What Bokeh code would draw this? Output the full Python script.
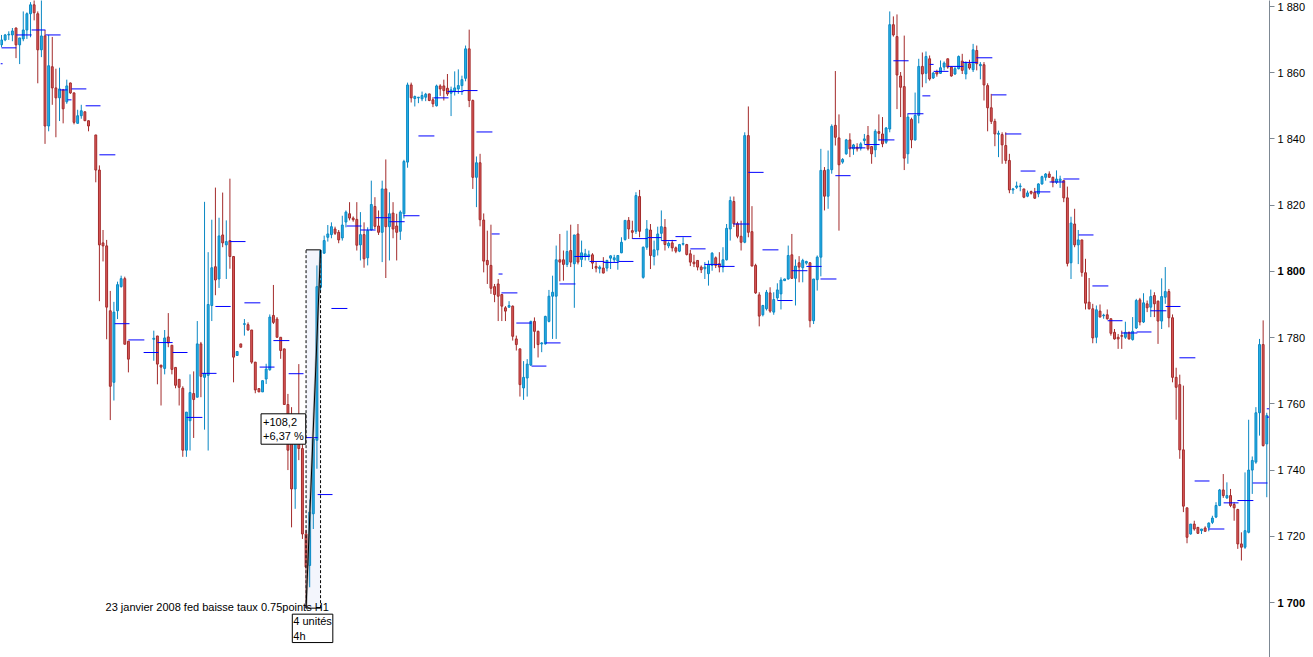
import numpy as np
from bokeh.plotting import figure
from bokeh.models import Range1d, FixedTicker, Label, LinearAxis
from bokeh.embed import file_html
from bokeh.resources import INLINE

# ---------------- DATA (hourly candles, one slot per hour; None = no trading) ----------------
opens = [
    1868.4, 1869.9, 1871.4, 1871.4, 1873.5, 1868.4, 1870.2, 1872.9, 1877.8, 1880.5,
    1877.8, 1866.9, 1871.1, 1843.9, 1861.8, 1855.4, 1852.4, 1854.8, 1851.2, 1856.9,
    1853.9, 1844.7, 1847.0, 1848.2, 1845.5, None, 1841.2, 1830.6, 1808.6, 1807.7,
    1788.1, 1766.5, 1788.1, 1795.4, 1797.8, 1778.9, None, None, None, None,
    None, None, 1779.5, 1780.5, 1771.7, 1770.7, 1780.2, 1777.7, 1771.0, 1767.4,
    1764.7, 1746.0, 1754.9, 1763.1, 1762.0, 1778.1, 1768.0, 1768.6, 1789.7, 1801.4,
    1797.7, 1811.0, 1808.0, 1809.3, 1804.5, 1774.6, 1778.1, 1784.0, 1783.9, 1782.3,
    1772.6, 1764.6, 1763.6, 1767.5, 1770.3, 1786.7, 1785.6, 1780.1, 1776.6, 1759.8,
    1756.5, 1734.3, 1748.5, 1746.5, 1720.7, 1711.2, 1726.8, 1749.0, 1795.2, 1805.5,
    1810.3, 1811.1, 1812.8, 1811.8, 1810.1, 1814.9, 1817.4, 1816.1, 1815.7, 1808.0,
    1811.1, 1804.1, 1812.5, 1819.6, 1813.7, 1811.8, 1824.9, 1813.5, 1817.6, 1813.7,
    1812.1, 1817.4, 1833.0, 1856.3, 1852.2, 1852.4, 1852.1, 1852.6, 1853.6, 1851.8,
    1850.0, 1856.0, 1856.0, 1855.3, 1853.8, 1854.4, 1855.1, 1856.1, 1858.3, 1867.2,
    1851.6, 1828.4, 1832.8, 1815.5, 1803.3, 1801.8, 1795.4, 1796.2, 1793.0, 1789.0,
    1789.2, 1789.5, 1779.6, 1776.6, 1764.8, 1767.8, 1771.7, 1784.9, 1781.9, 1778.1,
    1778.1, 1784.9, 1792.5, 1792.5, 1803.5, 1803.5, 1802.1, 1806.3, 1802.3, 1811.3,
    1803.6, 1804.5, 1804.5, 1805.0, 1801.5, 1800.8, 1801.0, 1801.0, 1804.0, 1803.5,
    1803.1, 1805.6, 1809.6, 1815.4, 1812.3, 1812.1, 1822.6, 1798.2, 1807.3, 1812.5,
    1804.5, 1806.5, 1811.5, 1813.3, 1807.7, 1808.6, 1807.1, 1806.1, 1808.2, 1808.1,
    1805.3, 1802.8, 1803.3, 1801.3, 1800.8, 1799.3, 1801.8, 1804.1, 1802.3, 1801.3,
    1803.5, 1812.8, 1821.1, 1814.4, 1810.6, 1808.8, 1841.0, 1812.0, 1801.8, 1792.9,
    1786.9, 1788.7, 1793.5, 1787.7, 1792.0, 1793.2, 1797.2, 1797.7, 1805.0, 1797.9,
    1802.6, 1801.1, 1802.5, 1802.6, 1785.1, 1797.5, 1804.3, 1830.5, 1822.7, 1830.7,
    1844.1, 1840.3, 1833.0, 1835.5, 1839.7, 1837.0, 1837.5, 1837.2, 1839.5, 1841.0,
    1837.7, 1836.7, 1842.2, 1841.5, 1839.0, 1843.0, 1874.5, 1870.9, 1859.0, 1855.8,
    1835.5, 1845.9, 1839.7, 1847.1, 1861.9, 1859.8, 1864.2, 1858.4, 1860.3, 1859.8,
    1861.7, 1864.2, 1861.7, 1859.6, 1861.2, 1863.5, 1859.6, 1862.7, 1860.9, 1866.7,
    1862.1, 1862.4, 1856.1, 1849.4, 1845.3, 1841.4, 1841.3, 1838.0, 1833.5, 1824.6,
    1825.4, 1825.6, 1824.9, 1822.7, 1824.1, 1823.9, 1823.4, 1826.4, 1828.4, 1829.4,
    1828.4, 1826.9, 1827.4, 1827.4, 1822.2, 1802.6, 1814.3, 1808.0, 1809.5, 1799.6,
    1790.7, 1788.7, 1780.1, 1788.0, 1786.6, 1786.9, 1785.7, 1781.6, 1780.1, 1780.6,
    1780.1, 1781.6, 1779.4, 1782.9, 1791.4, 1784.7, 1790.2, 1789.2, 1792.7, 1791.0,
    1785.0, 1792.2, 1793.9, 1786.0, 1768.0, 1765.8, 1746.1, 1728.6, 1720.7, 1723.7,
    1722.7, 1721.7, 1722.5, 1722.7, 1724.2, 1725.8, 1729.3, 1734.0, 1731.6, 1732.3,
    1729.6, 1728.1, 1717.7, 1716.7, 1721.2, 1740.0, 1742.4, 1757.3, 1777.9, 1747.9,
]
highs = [
    1871.4, 1871.7, 1872.5, 1873.5, 1873.6, 1870.5, 1878.5, 1878.2, 1881.3, 1882.5,
    1878.5, 1882.5, 1872.9, 1871.4, 1870.8, 1861.2, 1861.5, 1855.1, 1857.9, 1857.0,
    1854.0, 1848.8, 1850.3, 1848.2, 1845.5, None, 1841.2, 1832.0, 1812.5, 1809.5,
    1794.1, 1790.8, 1796.9, 1798.7, 1798.4, 1778.9, None, None, None, None,
    None, None, 1782.1, 1780.5, 1771.7, 1782.3, 1787.4, 1777.7, 1771.0, 1767.4,
    1765.3, 1757.5, 1768.9, 1769.8, 1785.0, 1778.7, 1821.0, 1805.8, 1815.6, 1825.3,
    1816.2, 1823.8, 1815.4, 1828.0, 1804.5, 1775.8, 1778.1, 1785.6, 1784.6, 1782.3,
    1772.6, 1764.6, 1767.0, 1772.1, 1787.0, 1795.9, 1786.2, 1780.1, 1776.6, 1763.0,
    1759.0, 1749.5, 1772.0, 1748.9, 1722.0, 1731.1, 1749.9, 1801.8, 1806.5, 1810.8,
    1814.0, 1814.8, 1813.5, 1812.5, 1816.8, 1818.4, 1820.9, 1816.6, 1820.9, 1817.9,
    1814.8, 1813.3, 1827.4, 1822.4, 1818.4, 1827.4, 1833.8, 1823.9, 1820.9, 1817.4,
    1818.4, 1833.7, 1857.0, 1857.0, 1853.1, 1852.6, 1854.3, 1853.9, 1853.6, 1852.6,
    1856.4, 1856.5, 1857.9, 1859.6, 1855.8, 1860.4, 1861.0, 1859.1, 1868.2, 1873.0,
    1851.9, 1834.7, 1835.5, 1817.5, 1812.3, 1814.1, 1796.2, 1797.7, 1793.2, 1789.5,
    1791.0, 1789.7, 1780.6, 1776.6, 1772.9, 1773.5, 1785.1, 1786.1, 1782.1, 1778.6,
    1786.6, 1794.4, 1798.7, 1807.8, 1811.3, 1806.3, 1812.3, 1814.1, 1811.0, 1814.3,
    1809.3, 1806.8, 1806.3, 1805.5, 1802.8, 1801.8, 1804.3, 1803.5, 1804.8, 1805.0,
    1804.8, 1810.3, 1815.4, 1816.4, 1815.3, 1823.9, 1824.6, 1807.5, 1815.5, 1814.3,
    1809.3, 1813.5, 1818.4, 1815.8, 1809.0, 1809.5, 1807.5, 1808.3, 1810.3, 1808.3,
    1806.5, 1805.0, 1803.3, 1801.8, 1802.8, 1803.3, 1805.8, 1804.5, 1805.8, 1807.3,
    1814.3, 1822.6, 1822.6, 1815.0, 1815.3, 1842.0, 1849.8, 1819.7, 1802.3, 1793.7,
    1789.9, 1794.4, 1795.2, 1793.7, 1796.4, 1798.2, 1797.8, 1807.8, 1811.3, 1803.6,
    1804.6, 1803.8, 1803.2, 1802.8, 1797.7, 1804.8, 1837.0, 1831.5, 1836.5, 1844.4,
    1860.5, 1847.4, 1834.2, 1840.0, 1841.7, 1838.5, 1838.7, 1839.0, 1841.5, 1843.9,
    1837.7, 1842.9, 1847.4, 1846.6, 1843.6, 1878.5, 1877.0, 1877.6, 1860.2, 1871.2,
    1847.6, 1846.4, 1854.0, 1864.2, 1866.1, 1866.4, 1865.2, 1860.2, 1860.9, 1863.7,
    1863.4, 1864.2, 1861.9, 1861.9, 1865.2, 1865.7, 1863.4, 1863.9, 1868.7, 1868.2,
    1863.2, 1863.2, 1856.8, 1853.6, 1846.1, 1842.5, 1842.0, 1842.0, 1835.5, 1825.2,
    1827.1, 1826.6, 1824.9, 1824.4, 1824.4, 1825.2, 1826.6, 1828.9, 1829.7, 1830.2,
    1828.6, 1830.5, 1828.9, 1827.6, 1825.6, 1816.5, 1818.9, 1812.5, 1809.5, 1803.8,
    1798.0, 1790.2, 1789.7, 1790.0, 1787.2, 1788.5, 1785.7, 1782.6, 1781.1, 1782.1,
    1784.8, 1781.8, 1786.2, 1791.7, 1792.0, 1793.4, 1791.2, 1794.5, 1793.7, 1791.2,
    1797.9, 1801.3, 1794.7, 1787.0, 1770.9, 1768.8, 1765.5, 1728.6, 1723.7, 1724.7,
    1722.7, 1722.2, 1723.0, 1724.2, 1726.2, 1730.3, 1734.3, 1738.8, 1736.3, 1734.3,
    1730.3, 1728.3, 1721.2, 1739.3, 1755.2, 1744.1, 1759.0, 1779.6, 1785.2, 1757.3,
]
lows = [
    1867.7, 1869.5, 1869.9, 1869.5, 1864.4, 1862.6, 1869.5, 1870.2, 1870.7, 1875.8,
    1856.8, 1864.7, 1838.5, 1842.3, 1850.3, 1840.5, 1845.4, 1844.7, 1850.6, 1853.6,
    1844.4, 1844.7, 1846.1, 1845.5, 1842.3, None, 1826.9, 1791.0, 1803.0, 1779.5,
    1755.1, 1761.0, 1785.6, 1795.1, 1778.0, 1769.5, None, None, None, None,
    None, None, 1773.0, 1765.9, 1759.5, 1768.9, 1777.1, 1768.9, 1764.7, 1759.5,
    1744.0, 1744.0, 1745.9, 1749.7, 1762.0, 1762.0, 1752.2, 1745.9, 1785.0, 1792.8,
    1795.0, 1807.3, 1797.7, 1800.8, 1766.5, 1774.6, 1777.1, 1780.6, 1782.1, 1772.1,
    1763.2, 1763.6, 1763.6, 1766.0, 1770.0, 1784.1, 1780.1, 1773.6, 1759.8, 1740.0,
    1722.7, 1728.3, 1743.0, 1719.2, 1698.3, 1704.6, 1722.2, 1740.4, 1794.0, 1805.3,
    1809.0, 1810.0, 1811.0, 1808.5, 1809.3, 1813.3, 1815.4, 1815.0, 1806.3, 1803.3,
    1801.1, 1801.8, 1812.3, 1812.8, 1811.0, 1802.8, 1798.0, 1803.3, 1810.0, 1803.3,
    1809.5, 1816.0, 1831.3, 1851.0, 1849.8, 1850.8, 1851.4, 1851.4, 1851.4, 1849.6,
    1849.8, 1853.0, 1851.6, 1853.0, 1846.9, 1853.1, 1853.6, 1853.3, 1857.4, 1849.6,
    1824.9, 1819.4, 1813.6, 1799.7, 1796.2, 1793.2, 1790.7, 1785.0, 1785.0, 1785.0,
    1789.0, 1779.1, 1776.1, 1762.2, 1761.2, 1762.2, 1771.5, 1776.8, 1774.0, 1775.6,
    1777.9, 1784.6, 1779.6, 1779.6, 1797.0, 1797.2, 1801.3, 1801.3, 1789.0, 1802.1,
    1801.3, 1803.3, 1803.3, 1800.7, 1799.7, 1799.4, 1799.4, 1800.0, 1800.7, 1802.8,
    1800.5, 1805.5, 1809.3, 1809.8, 1809.8, 1811.3, 1810.3, 1797.8, 1806.5, 1800.7,
    1801.8, 1804.8, 1809.3, 1806.3, 1807.0, 1806.0, 1805.5, 1805.8, 1807.8, 1804.8,
    1801.6, 1801.3, 1800.3, 1799.5, 1797.7, 1795.7, 1800.2, 1801.0, 1799.7, 1799.7,
    1803.3, 1809.3, 1813.4, 1810.0, 1806.3, 1808.5, 1810.3, 1801.6, 1793.2, 1783.4,
    1786.4, 1788.2, 1787.5, 1786.9, 1791.4, 1788.5, 1797.2, 1797.5, 1797.7, 1789.7,
    1796.7, 1796.7, 1802.0, 1783.1, 1784.1, 1794.2, 1798.5, 1818.4, 1818.9, 1829.5,
    1838.0, 1812.3, 1832.5, 1835.2, 1834.5, 1835.2, 1836.2, 1836.5, 1838.5, 1836.5,
    1832.5, 1834.5, 1839.5, 1837.5, 1838.5, 1842.0, 1870.9, 1849.0, 1846.6, 1830.6,
    1832.5, 1837.2, 1839.5, 1844.7, 1855.6, 1856.8, 1857.6, 1858.1, 1858.8, 1859.6,
    1860.7, 1861.2, 1858.8, 1859.3, 1861.0, 1859.6, 1858.0, 1860.9, 1860.2, 1860.7,
    1858.0, 1851.6, 1842.3, 1844.5, 1837.8, 1834.5, 1832.5, 1832.5, 1823.6, 1823.4,
    1824.9, 1824.2, 1822.1, 1822.4, 1823.2, 1821.9, 1822.4, 1826.2, 1827.4, 1828.4,
    1825.4, 1826.4, 1825.2, 1820.9, 1801.5, 1797.7, 1807.3, 1802.2, 1798.4, 1788.5,
    1788.5, 1778.3, 1778.3, 1786.2, 1785.7, 1785.4, 1780.6, 1779.4, 1776.6, 1776.6,
    1779.6, 1779.4, 1779.1, 1782.6, 1783.7, 1784.4, 1787.7, 1786.2, 1786.2, 1778.1,
    1782.6, 1790.2, 1783.1, 1766.5, 1755.2, 1743.4, 1727.3, 1717.9, 1720.5, 1721.7,
    1720.7, 1720.7, 1721.5, 1721.5, 1723.7, 1725.5, 1729.1, 1731.6, 1731.3, 1728.8,
    1724.7, 1716.2, 1712.7, 1716.2, 1720.9, 1732.8, 1741.9, 1750.4, 1747.1, 1731.8,
]
closes = [
    1869.9, 1871.4, 1871.6, 1872.6, 1868.4, 1870.5, 1872.9, 1877.8, 1880.5, 1878.1,
    1866.9, 1871.1, 1843.9, 1862.1, 1855.4, 1852.4, 1855.1, 1849.1, 1856.0, 1853.9,
    1845.0, 1847.0, 1848.5, 1845.5, 1843.9, None, 1830.6, 1808.0, 1807.7, 1789.2,
    1765.3, 1787.7, 1796.0, 1797.8, 1778.0, 1773.5, None, None, None, None,
    None, None, 1779.8, 1772.0, 1771.1, 1779.9, 1778.4, 1770.4, 1765.6, 1765.0,
    1746.0, 1757.5, 1763.4, 1761.3, 1778.1, 1768.3, 1769.2, 1790.0, 1801.1, 1797.4,
    1810.7, 1808.6, 1809.0, 1804.5, 1774.1, 1775.8, 1777.1, 1784.2, 1782.3, 1772.6,
    1764.2, 1763.6, 1767.0, 1770.5, 1786.2, 1784.6, 1780.1, 1776.1, 1759.8, 1746.0,
    1734.3, 1748.0, 1746.5, 1720.7, 1710.7, 1727.3, 1749.4, 1795.4, 1806.3, 1809.3,
    1811.3, 1813.5, 1811.5, 1809.5, 1814.0, 1817.9, 1816.1, 1815.6, 1807.9, 1811.1,
    1803.8, 1812.3, 1820.2, 1813.6, 1811.8, 1824.9, 1813.5, 1817.4, 1812.8, 1811.8,
    1817.9, 1833.2, 1856.3, 1852.4, 1852.8, 1852.6, 1853.1, 1853.5, 1851.6, 1850.6,
    1856.0, 1855.1, 1854.6, 1853.6, 1854.8, 1855.4, 1856.1, 1857.9, 1867.2, 1851.6,
    1828.4, 1832.8, 1815.6, 1803.1, 1802.0, 1794.9, 1793.0, 1792.5, 1789.5, 1788.0,
    1789.7, 1780.4, 1777.9, 1765.8, 1768.0, 1772.0, 1784.9, 1781.9, 1777.9, 1778.4,
    1786.4, 1792.5, 1793.7, 1803.5, 1802.8, 1802.1, 1806.0, 1802.8, 1811.0, 1802.8,
    1805.6, 1805.3, 1805.0, 1802.5, 1801.0, 1801.3, 1799.5, 1803.3, 1804.7, 1804.1,
    1804.8, 1808.8, 1815.4, 1812.8, 1811.8, 1822.9, 1812.1, 1807.3, 1812.8, 1804.8,
    1806.5, 1811.3, 1813.5, 1808.1, 1808.5, 1807.1, 1806.1, 1808.1, 1808.4, 1805.1,
    1802.8, 1802.3, 1801.3, 1800.5, 1801.3, 1802.1, 1805.5, 1801.8, 1801.3, 1803.5,
    1813.0, 1821.4, 1814.4, 1810.6, 1808.8, 1841.0, 1811.8, 1801.6, 1793.5, 1786.5,
    1789.7, 1793.7, 1788.0, 1791.5, 1794.4, 1797.4, 1797.7, 1804.8, 1797.9, 1801.6,
    1801.3, 1803.3, 1803.0, 1785.1, 1797.7, 1804.3, 1830.5, 1822.7, 1830.7, 1843.8,
    1840.5, 1832.2, 1833.8, 1839.7, 1837.0, 1838.2, 1837.0, 1838.5, 1840.0, 1837.0,
    1835.5, 1842.3, 1841.7, 1838.5, 1843.3, 1874.5, 1871.4, 1859.3, 1855.6, 1834.2,
    1846.6, 1839.7, 1847.1, 1861.9, 1859.6, 1864.9, 1858.1, 1859.9, 1859.6, 1861.5,
    1862.9, 1861.7, 1859.0, 1861.2, 1864.9, 1860.7, 1862.9, 1861.4, 1866.9, 1862.7,
    1862.5, 1856.3, 1849.4, 1845.3, 1841.5, 1841.7, 1838.2, 1833.5, 1824.6, 1824.9,
    1825.8, 1825.8, 1822.4, 1823.7, 1823.6, 1822.1, 1826.4, 1828.6, 1829.4, 1828.4,
    1826.9, 1827.9, 1827.9, 1822.2, 1802.4, 1814.6, 1808.0, 1809.5, 1799.7, 1790.4,
    1788.7, 1779.9, 1788.4, 1786.2, 1786.8, 1785.7, 1781.3, 1779.6, 1779.6, 1780.4,
    1781.6, 1779.6, 1781.9, 1791.2, 1784.7, 1790.5, 1789.0, 1792.4, 1790.2, 1785.0,
    1792.4, 1793.9, 1786.0, 1768.0, 1765.0, 1746.1, 1729.1, 1719.7, 1723.7, 1722.2,
    1720.9, 1722.2, 1721.5, 1724.0, 1725.5, 1729.3, 1734.0, 1732.3, 1732.3, 1729.3,
    1728.6, 1717.7, 1716.7, 1721.7, 1740.0, 1742.9, 1757.3, 1777.9, 1747.4, 1756.5,
]

# 4-hour reference levels: (first slot, last slot, level)
h4_levels = [
    (-0.3, 0.3, 1862.7), (0.0, 4.1, 1867.5), (4.1, 8.3, 1871.4), (8.3, 12.1, 1872.9),
    (12.1, 16.3, 1871.4), (16.0, 18.2, 1854.8), (18.2, 19.3, 1851.8), (19.3, 23.4, 1855.1),
    (23.2, 27.3, 1850.0), (27.0, 31.4, 1835.2), (31.2, 35.3, 1784.2), (35.0, 39.4, 1779.3),
    (39.2, 43.3, 1775.5), (43.0, 47.2, 1778.5), (47.2, 51.3, 1775.5), (51.0, 55.4, 1755.9),
    (55.2, 59.3, 1769.2), (59.0, 63.2, 1789.4), (62.9, 67.3, 1809.0), (67.0, 71.4, 1790.5),
    (71.2, 75.3, 1771.1), (75.0, 79.4, 1779.1), (79.2, 83.3, 1769.1), (83.3, 87.2, 1749.8),
    (87.2, 91.3, 1732.6), (91.0, 95.4, 1788.8), (95.2, 99.3, 1813.7), (99.0, 103.2, 1812.5),
    (103.2, 107.3, 1816.2), (107.0, 111.2, 1815.0), (110.9, 115.3, 1816.8), (115.0, 119.4, 1840.9),
    (119.2, 123.3, 1852.4), (123.0, 127.4, 1854.3), (127.2, 131.3, 1854.6), (131.0, 135.4, 1842.1),
    (135.2, 137.4, 1811.3), (137.1, 138.2, 1799.2), (137.9, 142.3, 1793.5), (142.0, 146.2, 1784.4),
    (146.2, 150.3, 1771.4), (150.0, 154.2, 1778.4), (153.9, 158.3, 1796.2), (158.0, 162.2, 1804.5),
    (162.2, 166.3, 1803.0), (166.0, 170.2, 1802.7), (170.2, 174.3, 1803.0), (174.0, 178.2, 1809.9),
    (178.2, 182.0, 1810.2), (182.0, 186.2, 1809.3), (185.9, 190.3, 1810.5), (190.0, 194.2, 1806.8),
    (193.9, 198.3, 1802.1), (198.0, 202.2, 1801.5), (201.9, 206.3, 1814.3), (206.0, 210.2, 1829.9),
    (209.9, 214.3, 1806.5), (214.0, 218.2, 1791.2), (217.9, 222.3, 1800.2), (222.0, 226.2, 1801.5),
    (225.9, 230.3, 1797.7), (230.0, 234.2, 1828.9), (233.9, 238.3, 1837.3), (238.0, 242.2, 1838.3),
    (241.9, 246.3, 1839.7), (246.0, 250.2, 1863.6), (249.9, 254.3, 1847.6), (254.0, 256.2, 1853.0),
    (256.0, 257.1, 1862.5), (257.1, 261.2, 1860.4), (260.9, 265.3, 1861.9), (265.1, 269.2, 1863.1),
    (268.9, 273.3, 1864.5), (273.1, 277.2, 1853.3), (276.9, 281.3, 1841.5), (281.1, 285.2, 1830.3),
    (284.9, 289.3, 1824.0), (289.1, 293.2, 1827.0), (292.9, 297.3, 1827.9), (297.1, 301.2, 1811.0),
    (300.9, 305.3, 1795.6), (305.1, 309.2, 1785.1), (308.9, 313.3, 1781.4), (313.1, 317.2, 1781.7),
    (316.9, 321.3, 1788.1), (321.1, 325.2, 1789.4), (324.9, 329.3, 1773.9), (329.1, 333.2, 1736.7),
    (332.9, 337.3, 1722.2), (337.1, 341.2, 1730.1), (340.9, 345.3, 1730.8), (345.1, 349.2, 1736.1),
    (349.0, 350.0, 1758.5), (349.0, 350.0, 1756.0),
]

# measured move (Fed rate cut, 23 Jan 2008)
measure_from = 84
measure_to = 88
measure_bars_label = "4 unités"
measure_time_label = "4h"
event_text = "23 janvier 2008 fed baisse taux 0.75points H1"
event_slot = 28.7

y_ticks = [1700, 1720, 1740, 1760, 1780, 1800, 1820, 1840, 1860, 1880]
bold_ticks = [1700, 1800]

# ---------------- VIEW ----------------
X_START, X_END = -0.28, 349.75
Y_MIN, Y_MAX = 1683.4, 1881.8
FONT = "Liberation Sans"
AXIS_GREY = "#7d8893"

BULL_FILL, BULL_LINE = "#27b0e6", "#0a88c4"
BEAR_FILL, BEAR_LINE = "#dc5a5a", "#a32b2b"

o = np.array(opens, dtype=float)
h = np.array(highs, dtype=float)
l = np.array(lows, dtype=float)
c = np.array(closes, dtype=float)
x = np.arange(len(o), dtype=float)
valid = ~np.isnan(o)
bull = valid & (c >= o)
bear = valid & (c < o)

p = figure(width=1313, height=657,
           x_range=Range1d(X_START, X_END), y_range=Range1d(Y_MIN, Y_MAX),
           output_backend="svg", toolbar_location=None,
           x_axis_location=None, y_axis_location="right",
           min_border_left=0, min_border_right=44, min_border_top=0, min_border_bottom=0)
p.grid.visible = False
p.outline_line_color = None
p.background_fill_color = "white"
p.border_fill_color = "white"

# measure box background
m_low = l[measure_from]
m_high = h[measure_to]
p.quad(left=[measure_from], right=[measure_to], bottom=[m_low], top=[m_high],
       fill_color="#f3f5fc", line_color=None)

# candles
for mask, fill, line in ((bull, BULL_FILL, BULL_LINE), (bear, BEAR_FILL, BEAR_LINE)):
    p.segment(x0=x[mask], y0=l[mask], x1=x[mask], y1=h[mask], line_color=line, line_width=1)
    p.vbar(x=x[mask], width=0.52, top=np.maximum(o, c)[mask], bottom=np.minimum(o, c)[mask],
           fill_color=fill, line_color=line, line_width=1)

# 4h levels
ls = [t[0] for t in h4_levels]
le = [t[1] for t in h4_levels]
lv = [t[2] for t in h4_levels]
p.segment(x0=ls, y0=lv, x1=le, y1=lv, line_color="#0000ff", line_width=1)

# measure outline
p.segment(x0=[measure_from, measure_to], y0=[m_low, m_low], x1=[measure_from, measure_to],
          y1=[m_high, m_high], line_color="black", line_width=1, line_dash="3 2")
p.segment(x0=[measure_from, measure_from], y0=[m_high, m_low], x1=[measure_to, measure_to],
          y1=[m_high, m_low], line_color="black", line_width=1)
p.segment(x0=[measure_from], y0=[m_low], x1=[measure_to], y1=[m_high],
          line_color="#8a8a8a", line_width=2.5, line_alpha=0.6)
p.segment(x0=[measure_from], y0=[m_low], x1=[measure_to], y1=[m_high],
          line_color="black", line_width=1)

diff = m_high - m_low
pct = diff / m_low * 100
txt1 = ("+%.1f" % diff).replace(".", ",") + "\n" + ("+%.2f %%" % pct).replace(".", ",")
p.add_layout(Label(x=measure_from, y=(m_low + m_high) / 2, x_offset=-45, text=txt1,
                   text_align="left", text_baseline="middle", text_font=FONT,
                   text_font_size="11px", text_color="black", padding=2,
                   background_fill_color="white", border_line_color="black"))
p.add_layout(Label(x=(measure_from + measure_to) / 2, y=m_low, x_offset=-21, y_offset=-6,
                   text=measure_bars_label + "\n" + measure_time_label,
                   text_align="left", text_baseline="top", text_font=FONT,
                   text_font_size="11px", text_color="black", padding=1,
                   background_fill_color="white", border_line_color="black"))
p.add_layout(Label(x=event_slot, y=m_low, y_offset=1, text=event_text,
                   text_align="left", text_baseline="alphabetic", text_font=FONT,
                   text_font_size="11px", text_color="black"))

# right axis (regular labels)
def fmt(v):
    return "%d %03d" % (v // 1000, v % 1000)

ax = p.yaxis[0]
ax.ticker = FixedTicker(ticks=y_ticks)
ax.major_label_overrides = {t: ("" if t in bold_ticks else fmt(t)) for t in y_ticks}
ax.axis_line_color = AXIS_GREY
ax.major_tick_line_color = AXIS_GREY
ax.major_tick_out = 5
ax.major_tick_in = 0
ax.minor_tick_out = 0
ax.minor_tick_in = 0
ax.major_label_standoff = 3
ax.major_label_text_font = FONT
ax.major_label_text_font_size = "11px"
ax.major_label_text_color = "black"

# second right axis carrying the bold round-hundred labels, pulled back over the first
axb = LinearAxis(ticker=FixedTicker(ticks=bold_ticks),
                 major_label_overrides={t: fmt(t) for t in bold_ticks},
                 axis_line_color=None, major_tick_line_color=None, minor_tick_line_color=None,
                 major_tick_out=0, major_tick_in=0, minor_tick_out=0, minor_tick_in=0,
                 major_label_standoff=-31,
                 major_label_text_font=FONT, major_label_text_font_size="11px",
                 major_label_text_font_style="bold", major_label_text_color="black")
p.add_layout(axb, "right")

open("out.html", "w").write(file_html(p, INLINE))
